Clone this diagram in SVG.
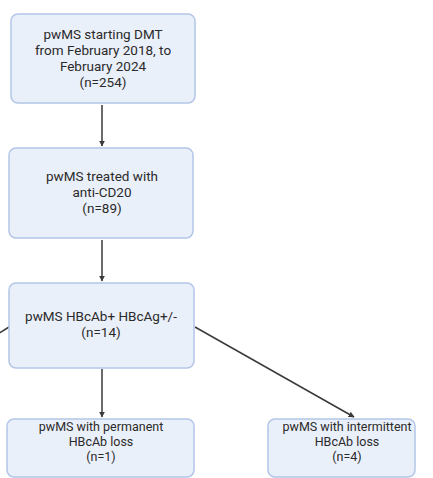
<svg xmlns="http://www.w3.org/2000/svg" width="433" height="478" viewBox="0 0 433 478">
<style>
.box{fill:#eaf0fa;stroke:#b3c6e6;stroke-width:1.5}
.t{font-family:Roboto,"Liberation Sans",sans-serif;font-size:13.5px;fill:#2a2a2a;text-anchor:middle}
.s{font-size:12.5px}
.c{stroke:#3a3a3a;stroke-width:1.5;fill:none}
</style>
<defs>
<marker id="ah" viewBox="0 0 10 10" refX="9" refY="5" markerWidth="6" markerHeight="6" orient="auto" markerUnits="userSpaceOnUse">
<path d="M0,0 L10,5 L0,10 z" fill="#3a3a3a"/>
</marker>
</defs>
<rect width="433" height="478" fill="#ffffff"/>
<g id="connectors">
<line class="c" x1="102" y1="105" x2="102" y2="146" marker-end="url(#ah)"/>
<line class="c" x1="102" y1="240" x2="102" y2="281" marker-end="url(#ah)"/>
<line class="c" x1="102" y1="369" x2="102" y2="417" marker-end="url(#ah)"/>
<line class="c" x1="195" y1="327" x2="354" y2="417" marker-end="url(#ah)"/>
<line class="c" x1="9" y1="327" x2="-2" y2="334"/>
</g>
<g id="n1">
<rect class="box" x="11" y="14" width="184" height="89" rx="7"/>
<text class="t" x="103" y="39">pwMS starting DMT</text>
<text class="t" x="103" y="55">from February 2018, to</text>
<text class="t" x="103" y="71">February 2024</text>
<text class="t" x="103" y="87">(n=254)</text>
</g>
<g id="n2">
<rect class="box" x="9" y="148" width="184" height="90" rx="7"/>
<text class="t" x="102" y="181">pwMS treated with</text>
<text class="t" x="102" y="197">anti-CD20</text>
<text class="t" x="102" y="213">(n=89)</text>
</g>
<g id="n3">
<rect class="box" x="9" y="283" width="185" height="85" rx="7"/>
<text class="t" x="101" y="321">pwMS HBcAb+ HBcAg+/-</text>
<text class="t" x="101" y="337">(n=14)</text>
</g>
<g id="n4">
<rect class="box" x="7" y="419" width="187" height="58" rx="7"/>
<text class="t s" x="101" y="431">pwMS with permanent</text>
<text class="t s" x="101" y="446">HBcAb loss</text>
<text class="t s" x="101" y="461">(n=1)</text>
</g>
<g id="n5">
<rect class="box" x="268" y="419" width="147" height="58" rx="7"/>
<text class="t s" x="347" y="431">pwMS with intermittent</text>
<text class="t s" x="347" y="446">HBcAb loss</text>
<text class="t s" x="347" y="461">(n=4)</text>
</g>
</svg>
